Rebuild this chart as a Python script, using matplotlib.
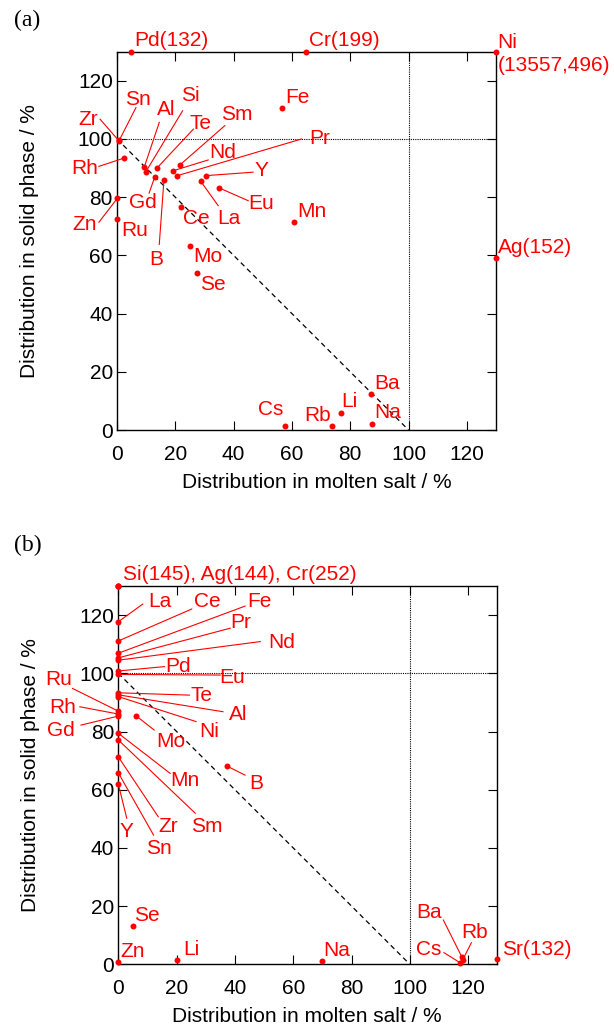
import numpy as np
import matplotlib
matplotlib.use("Agg")
import matplotlib.pyplot as plt

plt.rcParams['font.family'] = ['Liberation Sans', 'DejaVu Sans']

AX_MAX = 130
RED = '#ff0000'

# ---------------- Panel (a) data ----------------
elements_a = ['Pd', 'Cr', 'Ni', 'Ag', 'Fe', 'Zr', 'Sn', 'Rh', 'Al', 'Si', 'Te', 'Gd',
              'B', 'Sm', 'Nd', 'Pr', 'Y', 'La', 'Eu', 'Ce', 'Zn', 'Ru', 'Mn', 'Mo',
              'Se', 'Cs', 'Rb', 'Li', 'Ba', 'Na']
x_a = [4.8, 64.8, 13557, 152, 56.5, 0.8, 0.8, 2.3, 9.4, 9.8, 13.6, 12.9,
       16.1, 21.6, 19.3, 20.7, 30.4, 28.7, 35.0, 21.8, 0.1, 0.1, 60.8, 25.0,
       27.3, 57.6, 73.8, 77.0, 87.1, 87.5]
y_a = [132, 199, 496, 59.1, 110.7, 99.2, 99.6, 93.4, 90.5, 88.6, 89.9, 86.8,
       85.9, 91.1, 89.1, 87.4, 87.4, 85.5, 83.2, 76.8, 79.6, 72.4, 71.5, 63.3,
       53.9, 1.5, 1.4, 5.7, 12.3, 2.1]

# ---------------- Panel (b) data ----------------
elements_b = ['Si', 'Ag', 'Cr', 'La', 'Ce', 'Fe', 'Pr', 'Nd', 'Pd', 'Eu', 'Te', 'Al',
              'Ni', 'Ru', 'Rh', 'Gd', 'Mo', 'Mn', 'Sm', 'Zr', 'Sn', 'Y', 'B', 'Se',
              'Zn', 'Li', 'Na', 'Cs', 'Ba', 'Rb', 'Sr']
x_b = [0, 0, 0, 0, 0, 0, 0, 0, 0, 0, 0, 0,
       0, 0, 0, 0, 6.1, 0, 0, 0, 0, 0, 37.3, 4.9,
       0, 20.2, 70.0, 117.3, 117.8, 118.1, 132]
y_b = [145, 144, 252, 117.7, 111.1, 106.9, 105.3, 104.5, 100.8, 99.6, 93.3, 92.6,
       92.0, 87.0, 86.0, 85.3, 85.4, 79.4, 77.1, 71.3, 65.8, 61.9, 68.1, 13.3,
       0.9, 1.5, 1.0, 0.5, 2.6, 1.5, 1.7]

ticks = [0, 20, 40, 60, 80, 100, 120]

# ---------------- label placement (text x, text y, ha, leader start) ----------------
labels_a = {
    'Pd': (6.0, 133.7, 'left', None),
    'Cr': (65.9, 133.7, 'left', None),
    'Ni': (130.6, 129.1, 'left', None),
    'Ag': (130.6, 62.8, 'left', None),
    'Fe': (57.6, 114.3, 'left', None),
    'Sn': (7.3, 113.7, 'center', (6.5, 110.8)),
    'Zr': (-9.8, 106.8, 'center', (-5.8, 106.8)),
    'Al': (17.0, 110.3, 'center', (14.5, 105.7)),
    'Si': (25.0, 114.8, 'center', (22.5, 109.7)),
    'Te': (28.8, 105.3, 'center', (26.2, 103.4)),
    'Sm': (41.2, 108.5, 'center', (37.0, 104.6)),
    'Nd': (36.4, 95.4, 'center', (31.3, 92.8)),
    'Pr': (69.6, 100.3, 'center', (63.3, 100.0)),
    'Y': (49.6, 89.1, 'center', (46.7, 88.6)),
    'Eu': (49.4, 77.7, 'center', (45.0, 78.8)),
    'La': (38.5, 72.6, 'center', (34.7, 77.1)),
    'Ce': (27.3, 72.6, 'center', None),
    'Gd': (9.0, 78.3, 'center', (11.0, 81.4)),
    'B': (13.3, 58.5, 'center', (14.5, 63.8)),
    'Rh': (-11.0, 89.7, 'center', (-6.2, 90.6)),
    'Zn': (-11.0, 70.6, 'center', (-6.2, 71.4)),
    'Ru': (5.9, 68.6, 'center', None),
    'Mn': (66.7, 75.2, 'center', None),
    'Mo': (31.3, 59.6, 'center', None),
    'Se': (33.0, 49.9, 'center', None),
    'Cs': (52.8, 6.9, 'center', None),
    'Rb': (68.8, 4.9, 'center', None),
    'Li': (79.6, 9.7, 'center', None),
    'Ba': (92.5, 16.0, 'center', None),
    'Na': (93.0, 5.9, 'center', None),
}

labels_b = {
    ('Si', 'Ag', 'Cr'): (1.7, 134.1, 'left', None),
    'La': (14.1, 124.8, 'center', (8.4, 123.8)),
    'Ce': (30.6, 124.6, 'center', (25.2, 122.1)),
    'Fe': (48.5, 124.6, 'center', (43.5, 123.1)),
    'Pr': (42.1, 117.4, 'center', (38.4, 115.5)),
    'Nd': (55.9, 110.5, 'center', (48.7, 110.9)),
    'Pd': (20.4, 102.5, 'center', (15.8, 102.3)),
    'Eu': (39.2, 98.6, 'center', (35.0, 99.4)),
    'Te': (28.4, 92.5, 'center', (24.4, 92.5)),
    'Al': (41.2, 85.7, 'center', (35.9, 86.8)),
    'Ni': (31.3, 79.9, 'center', (26.7, 83.4)),
    'Ru': (-20.6, 97.7, 'center', (-15.7, 94.8)),
    'Rh': (-19.1, 88.2, 'center', (-13.2, 88.5)),
    'Gd': (-19.7, 80.5, 'center', (-12.8, 82.2)),
    'Mo': (18.0, 76.7, 'center', (12.3, 80.5)),
    'Mn': (23.0, 63.3, 'center', (17.8, 65.6)),
    'Sm': (30.4, 47.5, 'center', (26.4, 51.9)),
    'Zr': (17.2, 47.3, 'center', (13.7, 50.7)),
    'Sn': (14.1, 39.9, 'center', (12.1, 44.4)),
    'Y': (2.9, 45.6, 'center', (2.9, 50.2)),
    'B': (47.3, 62.2, 'center', (43.5, 65.0)),
    'Se': (9.8, 16.9, 'center', None),
    'Zn': (4.9, 4.3, 'center', None),
    'Li': (25.0, 5.2, 'center', None),
    'Na': (74.8, 4.9, 'center', None),
    'Ba': (106.6, 17.7, 'center', (111.5, 15.2)),
    'Rb': (122.2, 10.9, 'center', (121.1, 7.4)),
    'Cs': (106.3, 5.2, 'center', (111.7, 4.0)),
    'Sr': (131.5, 5.2, 'left', None),
}

FS = 15


def display_name(name, x, y):
    out = [v for v in (x, y) if v > AX_MAX]
    if not out:
        return name
    vals = ",".join(f"{v:g}" for v in out)
    if len(out) == 2:
        return f"{name}\n({vals})"
    return f"{name}({vals})"


def draw_panel(ax, names, xs, ys, labels, xlabel_x):
    xs = np.asarray(xs, float)
    ys = np.asarray(ys, float)
    xp = np.minimum(xs, AX_MAX)
    yp = np.minimum(ys, AX_MAX)
    lookup = {n: (xs[i], ys[i], xp[i], yp[i]) for i, n in enumerate(names)}

    ax.set_xlim(0, AX_MAX)
    ax.set_ylim(0, AX_MAX)
    # reference lines
    ax.plot([0, 100], [100, 0], color='black', lw=0.9, ls=(0, (4, 3)), zorder=1)
    ax.axhline(100, color='black', lw=0.8, ls=(0, (1, 1)), zorder=1)
    ax.axvline(100, color='black', lw=0.8, ls=(0, (1, 1)), zorder=1)

    ax.plot(xp, yp, 'o', color=RED, ms=4.3, mec='none', clip_on=False, zorder=4)

    for key, (tx, ty, ha, lead) in labels.items():
        group = key if isinstance(key, tuple) else (key,)
        txt = ", ".join(display_name(g, lookup[g][0], lookup[g][1]) for g in group)
        px, py = lookup[group[0]][2], lookup[group[0]][3]
        if lead is not None:
            ax.plot([lead[0], px], [lead[1], py], color=RED, lw=0.8,
                    clip_on=False, zorder=3)
        ax.text(tx, ty, txt, color=RED, fontsize=FS, ha=ha, va='center',
                linespacing=1.25, clip_on=False, zorder=5)

    ax.set_xticks(ticks)
    ax.set_yticks(ticks)
    ax.tick_params(direction='in', length=6.3, width=0.8, top=True, right=True,
                   labelsize=FS, colors='black')
    ax.tick_params(axis='x', pad=10.5)
    ax.tick_params(axis='y', pad=3)
    for s in ax.spines.values():
        s.set_linewidth(1.0)
    ax.set_xlabel('Distribution in molten salt / %', fontsize=FS)
    ax.set_ylabel('Distribution in solid phase / %', fontsize=FS)
    ax.xaxis.set_label_coords(xlabel_x, -0.138)
    ax.xaxis.label.set_va('center')
    ax.yaxis.set_label_coords(-0.232, 0.5)
    ax.yaxis.label.set_va('center')


fig = plt.figure(figsize=(6.14, 10.31), dpi=100)
ax_a = fig.add_axes([117 / 614, 1 - 430 / 1031, 379 / 614, 378.3 / 1031])
ax_b = fig.add_axes([118.3 / 614, 1 - 964.3 / 1031, 379 / 614, 378.3 / 1031])

draw_panel(ax_a, elements_a, x_a, y_a, labels_a, 0.527)
draw_panel(ax_b, elements_b, x_b, y_b, labels_b, 0.497)

fig.text(26.7 / 614, 1 - 20 / 1031, '(a)', family=['Liberation Serif', 'DejaVu Serif'],
         fontsize=17, ha='center', va='center')
fig.text(28.3 / 614, 1 - 545 / 1031, '(b)', family=['Liberation Serif', 'DejaVu Serif'],
         fontsize=17, ha='center', va='center')

fig.savefig('out.png', dpi=100)
